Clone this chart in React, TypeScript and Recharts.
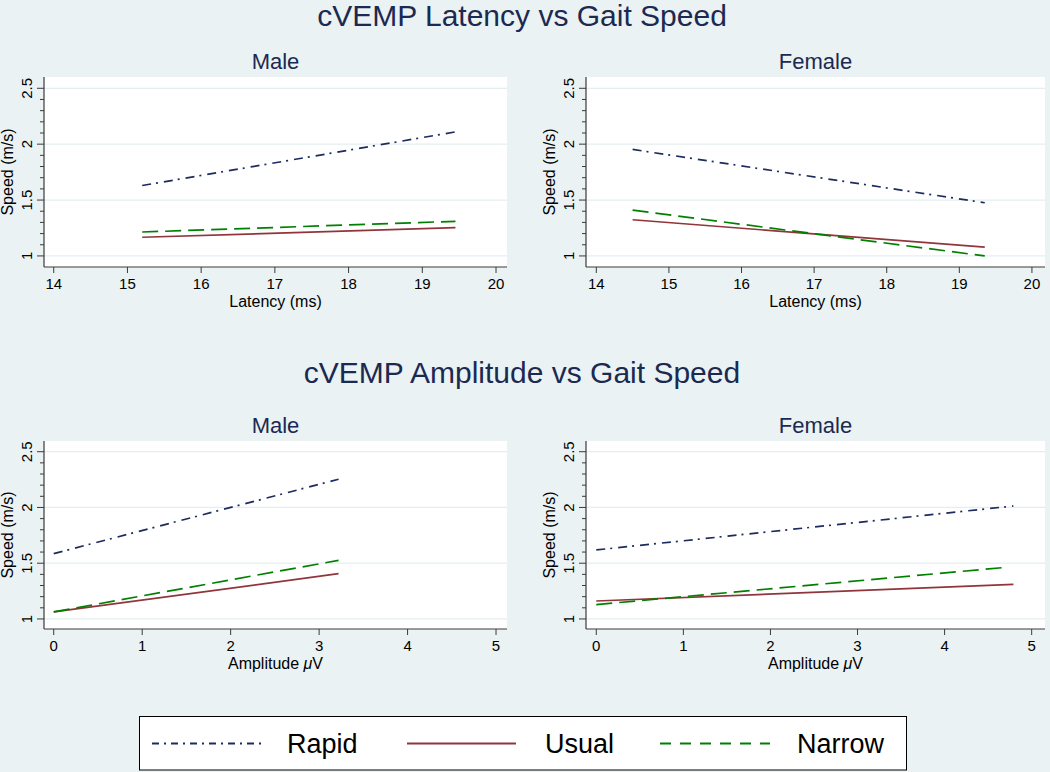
import React from 'react';
import { LineChart, Line, XAxis, YAxis, CartesianGrid, ReferenceLine } from 'recharts';

// regression lines (start / end of each fitted line)
const latMaleX = [15.2, 19.45];
const latMaleRapid = [1.63, 2.11];
const latMaleUsual = [1.167, 1.253];
const latMaleNarrow = [1.214, 1.31];

const latFemaleX = [14.5, 19.35];
const latFemaleRapid = [1.953, 1.476];
const latFemaleUsual = [1.324, 1.078];
const latFemaleNarrow = [1.41, 1.0];

const ampMaleX = [0, 3.22];
const ampMaleRapid = [1.586, 2.253];
const ampMaleUsual = [1.063, 1.406];
const ampMaleNarrow = [1.063, 1.526];

const ampFemaleX = [0, 4.79];
const ampFemaleNarrowX = [0, 4.72];
const ampFemaleRapid = [1.619, 2.013];
const ampFemaleUsual = [1.161, 1.311];
const ampFemaleNarrow = [1.129, 1.464];

const latencyTicks = [14, 15, 16, 17, 18, 19, 20];
const amplitudeTicks = [0, 1, 2, 3, 4, 5];
const yTicks = [1, 1.1, 1.2, 1.3, 1.4, 1.5, 1.6, 1.7, 1.8, 1.9, 2, 2.1, 2.2, 2.3, 2.4, 2.5];
const yLabels = [1, 1.5, 2, 2.5];

const seriesNames = ['Rapid', 'Usual', 'Narrow'];

const FONT = '"Liberation Sans", Arial, Helvetica, sans-serif';
const BG = '#eaf2f3';
const TITLE = '#1c2951';
const AXIS = '#3a3a3a';
const GRID = '#e4eef1';

const styles: Record<string, { stroke: string; dash?: string; legendDash?: string }> = {
  Rapid: { stroke: '#1d2b5e', dash: '9 5 2 6', legendDash: '7 5 2 5' },
  Usual: { stroke: '#90353b' },
  Narrow: { stroke: '#008000', dash: '16 7', legendDash: '11 9' },
};

const pts = (xs: number[], ys: number[]) => xs.map((x, i) => ({ x, y: ys[i] }));

const panels = [
  {
    key: 'lat-m', left: 0, top: 40, width: 525, height: 280, yAxisW: 44, marginTop: 37, marginRight: 18, xAxisH: 53,
    xDomain: [13.868, 20.149], xTicks: latencyTicks, yDomain: [0.901, 2.601],
    title: 'Male', xLabel: 'Latency (ms)',
    lines: [pts(latMaleX, latMaleRapid), pts(latMaleX, latMaleUsual), pts(latMaleX, latMaleNarrow)],
  },
  {
    key: 'lat-f', left: 520, top: 40, width: 530, height: 280, yAxisW: 66, marginTop: 37, marginRight: 5, xAxisH: 53,
    xDomain: [13.858, 20.18], xTicks: latencyTicks, yDomain: [0.901, 2.601],
    title: 'Female', xLabel: 'Latency (ms)',
    lines: [pts(latFemaleX, latFemaleRapid), pts(latFemaleX, latFemaleUsual), pts(latFemaleX, latFemaleNarrow)],
  },
  {
    key: 'amp-m', left: 0, top: 404, width: 525, height: 280, yAxisW: 44, marginTop: 37, marginRight: 18, xAxisH: 55,
    xDomain: [-0.11, 5.124], xTicks: amplitudeTicks, yDomain: [0.91, 2.596],
    title: 'Male', xLabel: 'Amplitude',
    lines: [pts(ampMaleX, ampMaleRapid), pts(ampMaleX, ampMaleUsual), pts(ampMaleX, ampMaleNarrow)],
  },
  {
    key: 'amp-f', left: 520, top: 404, width: 530, height: 280, yAxisW: 66, marginTop: 37, marginRight: 5, xAxisH: 55,
    xDomain: [-0.118, 5.153], xTicks: amplitudeTicks, yDomain: [0.91, 2.596],
    title: 'Female', xLabel: 'Amplitude',
    lines: [pts(ampFemaleX, ampFemaleRapid), pts(ampFemaleX, ampFemaleUsual), pts(ampFemaleNarrowX, ampFemaleNarrow)],
  },
];

const YTick = (props: any) => {
  const { x, y, payload } = props;
  const major = yLabels.includes(payload.value);
  return (
    <g>
      <line x1={x - (major ? 7 : 4)} x2={x} y1={y} y2={y} stroke={AXIS} strokeWidth={1} />
      {major && (
        <text
          x={x - 12}
          y={y}
          transform={`rotate(-90, ${x - 12}, ${y})`}
          textAnchor="middle"
          fontSize={15}
          fontFamily={FONT}
          fill="#000"
        >
          {payload.value}
        </text>
      )}
    </g>
  );
};

const XTick = (props: any) => {
  const { x, y, payload } = props;
  return (
    <g>
      <line x1={x} x2={x} y1={y} y2={y + 6} stroke={AXIS} strokeWidth={1} />
      <text x={x} y={y + 22} textAnchor="middle" fontSize={15} fontFamily={FONT} fill="#000">
        {payload.value}
      </text>
    </g>
  );
};

function Panel({ p }: { p: (typeof panels)[number] }) {
  return (
    <div style={{ position: 'absolute', left: p.left, top: p.top }}>
      <LineChart
        width={p.width}
        height={p.height}
        margin={{ top: p.marginTop, right: p.marginRight, left: 0, bottom: 0 }}
      >
        <CartesianGrid horizontal={false} vertical={false} fill="#ffffff" fillOpacity={1} />
        {yLabels.map((v) => (
          <ReferenceLine key={v} y={v} stroke={GRID} strokeWidth={1.2} />
        ))}
        <XAxis
          type="number"
          dataKey="x"
          domain={p.xDomain}
          allowDataOverflow
          ticks={p.xTicks}
          interval={0}
          height={p.xAxisH}
          tickSize={0}
          tickMargin={0}
          tick={<XTick />}
          axisLine={{ stroke: AXIS, strokeWidth: 1.2 }}
        />
        <YAxis
          type="number"
          dataKey="y"
          domain={p.yDomain}
          allowDataOverflow
          ticks={yTicks}
          interval={0}
          width={p.yAxisW}
          tickSize={0}
          tickMargin={0}
          tick={<YTick />}
          axisLine={{ stroke: AXIS, strokeWidth: 1.2 }}
        />
        {p.lines.map((data, i) => {
          const name = seriesNames[i];
          const s = styles[name];
          return (
            <Line
              key={name}
              data={data}
              dataKey="y"
              name={name}
              type="linear"
              stroke={s.stroke}
              strokeWidth={1.7}
              strokeDasharray={s.dash}
              dot={false}
              activeDot={false}
              isAnimationActive={false}
            />
          );
        })}
      </LineChart>
    </div>
  );
}

function Overlay() {
  const legendItems = [
    { name: 'Rapid', x1: 152, x2: 262, tx: 287 },
    { name: 'Usual', x1: 407, x2: 516, tx: 545 },
    { name: 'Narrow', x1: 660, x2: 770, tx: 797 },
  ];
  return (
    <svg width={1050} height={772} style={{ position: 'absolute', left: 0, top: 0, pointerEvents: 'none' }}>
      <g fontFamily={FONT}>
        <text x={522} y={26} textAnchor="middle" fontSize={30} fill={TITLE}>
          cVEMP Latency vs Gait Speed
        </text>
        <text x={522} y={383} textAnchor="middle" fontSize={30} fill={TITLE}>
          cVEMP Amplitude vs Gait Speed
        </text>
        {panels.map((p) => {
          const pl = p.left + p.yAxisW;
          const pr = p.left + p.width - p.marginRight;
          const pt = p.top + p.marginTop;
          const pb = p.top + p.height - p.xAxisH;
          const cx = (pl + pr) / 2;
          const cy = (pt + pb) / 2;
          return (
            <g key={p.key}>
              <text x={cx} y={pt - 8} textAnchor="middle" fontSize={22} fill={TITLE}>
                {p.title}
              </text>
              <text
                x={pl - 31}
                y={cy}
                transform={`rotate(-90, ${pl - 31}, ${cy})`}
                textAnchor="middle"
                fontSize={16}
                fill="#000"
              >
                Speed (m/s)
              </text>
              <text x={cx} y={pb + 39.5} textAnchor="middle" fontSize={16} fill="#000">
                {p.xLabel}
                {p.xLabel === 'Amplitude' && (
                  <>
                    {' '}
                    <tspan fontStyle="italic">μ</tspan>V
                  </>
                )}
              </text>
            </g>
          );
        })}
        <rect x={139.5} y={716.5} width={767} height={53.5} fill="#ffffff" stroke="#000" strokeWidth={1} />
        {legendItems.map((it) => {
          const s = styles[it.name];
          return (
            <g key={it.name}>
              <line
                x1={it.x1}
                x2={it.x2}
                y1={743.5}
                y2={743.5}
                stroke={s.stroke}
                strokeWidth={2}
                strokeDasharray={s.legendDash}
              />
              <text x={it.tx} y={753} fontSize={27} fill="#000">
                {it.name}
              </text>
            </g>
          );
        })}
      </g>
    </svg>
  );
}

export default function App() {
  return (
    <div style={{ position: 'absolute', left: 0, top: 0, width: 1050, height: 772, background: BG, overflow: 'hidden' }}>
      {panels.map((p) => (
        <Panel key={p.key} p={p} />
      ))}
      <Overlay />
    </div>
  );
}
